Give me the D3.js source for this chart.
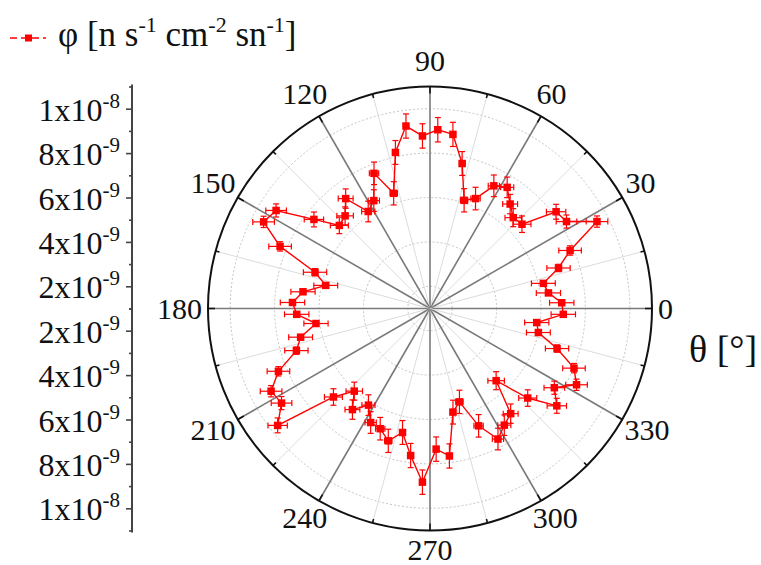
<!DOCTYPE html>
<html>
<head>
<meta charset="utf-8">
<script src="https://cdn.jsdelivr.net/npm/d3@7"></script>
<style>
  body { margin: 0; background: #fff; }
  svg { display: block; }
  text { font-family: "Liberation Serif", "Times New Roman", serif; fill: #111; }
</style>
</head>
<body>
<svg id="chart" width="761" height="565"></svg>
<script>
// Azimuth of each measurement (degrees)
const thetaDeg = [
  2.5, 7.5, 12.5, 17.5, 22.5, 27.5, 32.5, 37.5, 42.5, 47.5, 52.5, 57.5,
  62.5, 67.5, 72.5, 77.5, 82.5, 87.5, 92.5, 97.5, 102.5, 107.5, 112.5, 117.5,
  122.5, 127.5, 132.5, 137.5, 142.5, 147.5, 152.5, 157.5, 162.5, 167.5, 172.5, 177.5,
  182.5, 187.5, 192.5, 197.5, 202.5, 207.5, 212.5, 217.5, 222.5, 227.5, 232.5, 237.5,
  242.5, 247.5, 252.5, 257.5, 262.5, 267.5, 272.5, 277.5, 282.5, 287.5, 292.5, 297.5,
  302.5, 307.5, 312.5, 317.5, 322.5, 327.5, 332.5, 337.5, 342.5, 347.5, 352.5, 357.5
];
// Flux φ [n s^-1 cm^-2 sn^-1]
const phi = [
  6.94e-9, 6.38e-9, 6.23e-9, 7.07e-9, 7.83e-9, 9.48e-9, 8.29e-9, 8.16e-9, 6.62e-9, 6.55e-9, 6.93e-9, 7.47e-9,
  7.23e-9, 6.36e-9, 6.11e-9, 7.69e-9, 8.91e-9, 9.06e-9, 8.78e-9, 9.29e-9, 8.20e-9, 6.44e-9, 7.59e-9, 6.48e-9,
  6.18e-9, 7.24e-9, 6.66e-9, 6.54e-9, 7.59e-9, 9.22e-9, 9.45e-9, 8.31e-9, 6.43e-9, 5.81e-9, 6.77e-9, 7.20e-9,
  7.01e-9, 6.18e-9, 6.97e-9, 7.31e-9, 8.39e-9, 9.07e-9, 8.93e-9, 9.65e-9, 6.90e-9, 6.05e-9, 6.74e-9, 6.16e-9,
  6.79e-9, 6.86e-9, 7.25e-9, 6.72e-9, 7.68e-9, 8.83e-9, 7.34e-9, 7.70e-9, 5.78e-9, 5.41e-9, 6.72e-9, 7.63e-9,
  7.23e-9, 6.97e-9, 5.41e-9, 6.97e-9, 8.20e-9, 7.64e-9, 8.44e-9, 8.02e-9, 7.00e-9, 6.00e-9, 5.85e-9, 7.01e-9
];
// Uncertainty on φ
const phiErr = 0.55e-9;

const angleTicks = [0, 30, 60, 90, 120, 150, 180, 210, 240, 270, 300, 330];
const radialTicks = [2e-9, 4e-9, 6e-9, 8e-9, 1e-8];
const radialTickText = [["2x10", "-9"], ["4x10", "-9"], ["6x10", "-9"], ["8x10", "-9"], ["1x10", "-8"]];
const legendLabel = [["φ [n s", ""], ["-1", "sup"], [" cm", ""], ["-2", "sup"], [" sn", ""], ["-1", "sup"], ["]", ""]];

const RED = "#ff0000";
const svg = d3.select("#chart");
const cx = 430, cy = 308.5, R = 222;

const r = d3.scaleLinear().domain([1e-9, 1.1e-8]).range([0, R]);
const rad = d => d * Math.PI / 180;
const px = (a, v) => cx + r(v) * Math.cos(rad(a));
const py = (a, v) => cy - r(v) * Math.sin(rad(a));

// ---- grid ----
const grid = svg.append("g");
grid.selectAll("circle.ring").data(radialTicks).join("circle")
  .attr("cx", cx).attr("cy", cy).attr("r", d => r(d))
  .attr("fill", "none").attr("stroke", "#c4c4c4").attr("stroke-width", 1)
  .attr("stroke-dasharray", "2,2");

const spokes = d3.range(0, 360, 15);
grid.selectAll("line.spoke").data(spokes).join("line")
  .attr("x1", cx).attr("y1", cy)
  .attr("x2", d => cx + R * Math.cos(rad(d)))
  .attr("y2", d => cy - R * Math.sin(rad(d)))
  .attr("stroke", d => d % 30 === 0 ? "#7a7a7a" : "#dcdcdc")
  .attr("stroke-width", d => d % 30 === 0 ? 1.6 : 1);

// outer circle and angular ticks
grid.append("circle").attr("cx", cx).attr("cy", cy).attr("r", R)
  .attr("fill", "none").attr("stroke", "#111").attr("stroke-width", 2);
grid.selectAll("line.atick").data(spokes).join("line")
  .attr("x1", d => cx + R * Math.cos(rad(d)))
  .attr("y1", d => cy - R * Math.sin(rad(d)))
  .attr("x2", d => cx + (R - (d % 30 === 0 ? 7 : 4)) * Math.cos(rad(d)))
  .attr("y2", d => cy - (R - (d % 30 === 0 ? 7 : 4)) * Math.sin(rad(d)))
  .attr("stroke", "#111").attr("stroke-width", 1.6);

// angle labels, pushed outward from the rim by half their box
const angFont = 30;
grid.selectAll("text.alab").data(angleTicks).join("text")
  .attr("font-size", angFont)
  .attr("text-anchor", "middle")
  .attr("dominant-baseline", "central")
  .text(d => d)
  .each(function (d) {
    const w = this.getComputedTextLength();
    const c = Math.cos(rad(d)), s = Math.sin(rad(d));
    const x = cx + (R + 6) * c + c * w / 2;
    const y = s > 0.01
      ? cy - (R + 6) * s - s * 15 - 5
      : cy - (R + 6) * s - s * 13;
    d3.select(this).attr("x", x).attr("y", y);
  });

// ---- radial axis on the left, mirrored about the centre ----
const axX = 132;
const yUp = d3.scaleLinear().domain([1e-9, 1.1e-8]).range([cy, cy - R]);
const yDn = d3.scaleLinear().domain([1e-9, 1.1e-8]).range([cy, cy + R]);
const minor = [1e-9, 3e-9, 5e-9, 7e-9, 9e-9, 1.1e-8];
const axis = svg.append("g");
axis.append("line").attr("x1", axX).attr("x2", axX)
  .attr("y1", yUp(1.1e-8) - 2).attr("y2", yDn(1.1e-8) + 2)
  .attr("stroke", "#444").attr("stroke-width", 2);
[yUp, yDn].forEach(ys => {
  const g = axis.append("g").attr("transform", `translate(${axX},0)`)
    .call(d3.axisLeft(ys).tickValues(radialTicks).tickSize(6).tickFormat(""));
  g.select(".domain").remove();
  g.selectAll(".tick line").attr("stroke", "#444").attr("stroke-width", 1.6);
  const gm = axis.append("g").attr("transform", `translate(${axX},0)`)
    .call(d3.axisLeft(ys).tickValues(minor).tickSize(3).tickFormat(""));
  gm.select(".domain").remove();
  gm.selectAll(".tick line").attr("stroke", "#444").attr("stroke-width", 1.6);

  radialTicks.forEach((v, i) => {
    const t = axis.append("text")
      .attr("x", axX - 12).attr("y", ys(v) + 12)
      .attr("text-anchor", "end").attr("font-size", 32);
    t.append("tspan").text(radialTickText[i][0]);
    t.append("tspan").attr("font-size", 21).attr("dy", -13).text(radialTickText[i][1]);
  });
});

// ---- data ----
const data = thetaDeg.map((a, i) => ({ a, v: phi[i], e: phiErr }));
const plot = svg.append("g");
const line = d3.line().x(d => px(d.a, d.v)).y(d => py(d.a, d.v)).curve(d3.curveLinearClosed);
plot.append("path").datum(data).attr("d", line)
  .attr("fill", "none").attr("stroke", RED).attr("stroke-width", 1.4);

const cap = 3;
data.forEach(d => {
  const x = px(d.a, d.v), y = py(d.a, d.v);
  const ePx = r(d.v + d.e) - r(d.v);
  const hx = Math.abs(ePx * Math.cos(rad(d.a)));
  const hy = Math.abs(ePx * Math.sin(rad(d.a)));
  const g = plot.append("g").attr("stroke", RED).attr("stroke-width", 1.2);
  if (hx > 1.5) {
    g.append("line").attr("x1", x - hx).attr("x2", x + hx).attr("y1", y).attr("y2", y);
    [x - hx, x + hx].forEach(xx => g.append("line").attr("x1", xx).attr("x2", xx).attr("y1", y - cap).attr("y2", y + cap));
  }
  if (hy > 1.5) {
    g.append("line").attr("x1", x).attr("x2", x).attr("y1", y - hy).attr("y2", y + hy);
    [y - hy, y + hy].forEach(yy => g.append("line").attr("x1", x - cap).attr("x2", x + cap).attr("y1", yy).attr("y2", yy));
  }
});
plot.selectAll("rect.pt").data(data).join("rect")
  .attr("x", d => px(d.a, d.v) - 3.75).attr("y", d => py(d.a, d.v) - 3.75)
  .attr("width", 7.5).attr("height", 7.5).attr("fill", RED);

// ---- legend ----
const leg = svg.append("g");
leg.append("line").attr("x1", 10).attr("x2", 46).attr("y1", 38).attr("y2", 38)
  .attr("stroke", RED).attr("stroke-width", 1.3).attr("stroke-dasharray", "7,4");
leg.append("rect").attr("x", 25).attr("y", 34.5).attr("width", 7).attr("height", 7).attr("fill", RED);
const lt = leg.append("text").attr("x", 58).attr("y", 46).attr("font-size", 35);
let raised = false;
legendLabel.forEach(([s, kind]) => {
  const ts = lt.append("tspan").text(s);
  if (kind === "sup") {
    ts.attr("font-size", 22).attr("dy", -14);
    raised = true;
  } else if (raised) {
    ts.attr("dy", 14);
    raised = false;
  }
});

// ---- angular axis title ----
svg.append("text").attr("x", 689).attr("y", 362).attr("font-size", 38).text("θ [°]");
</script>
</body>
</html>
